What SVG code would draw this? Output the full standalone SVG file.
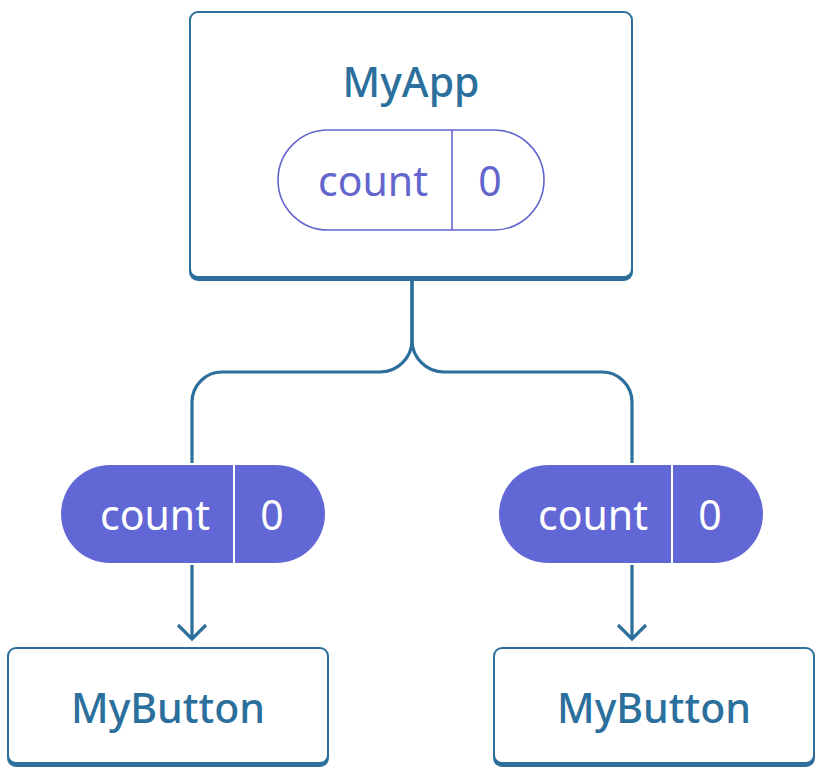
<svg xmlns="http://www.w3.org/2000/svg" width="820" height="770" viewBox="0 0 820 770">
<defs>
<style>
.box{fill:#ffffff;stroke:#2d6f9b;stroke-width:2}
.shadow{fill:#2d6f9b}
.title{font-family:"Noto Sans","Liberation Sans",sans-serif;font-size:41px;fill:#2b6f9c;text-anchor:middle;font-weight:500}
.pill-o{fill:#ffffff;stroke:#6366cc;stroke-width:1.6}
.pill-f{fill:#6267d6}
.ptxt-o{font-family:"Noto Sans","Liberation Sans",sans-serif;font-size:41px;fill:#6366cc;text-anchor:middle}
.ptxt-f{font-family:"Noto Sans","Liberation Sans",sans-serif;font-size:41px;fill:#ffffff;text-anchor:middle}
.conn{fill:none;stroke:#2d6f9b;stroke-width:3.2;stroke-linecap:butt}
</style>
</defs>
<g id="connectors">
<path class="conn" d="M412 280 V340 A32 32 0 0 1 380 372 H222 A30 30 0 0 0 192 402 V463"/>
<path class="conn" d="M412 280 V340 A32 32 0 0 0 444 372 H602 A30 30 0 0 1 632 402 V463"/>
<path class="conn" d="M192 565 V639"/>
<path class="conn" d="M178 625 L192 639 L206 625"/>
<path class="conn" d="M632 565 V639"/>
<path class="conn" d="M618 625 L632 639 L646 625"/>
</g>
<g id="myapp">
<rect class="shadow" x="189" y="15" width="444" height="266" rx="9"/>
<rect class="box" x="190" y="12" width="442" height="265" rx="8"/>
<text class="title" x="411" y="97">MyApp</text>
<g id="myapp-state">
<rect class="pill-o" x="278" y="130" width="266" height="100" rx="50"/>
<line x1="452" y1="130" x2="452" y2="230" stroke="#6366cc" stroke-width="1.6"/>
<text class="ptxt-o" x="373" y="196">count</text>
<text class="ptxt-o" x="490" y="196">0</text>
</g>
</g>
<g id="state-left">
<rect class="pill-f" x="61" y="465" width="264" height="98" rx="49"/>
<line x1="234" y1="465" x2="234" y2="563" stroke="#ffffff" stroke-width="2"/>
<text class="ptxt-f" x="155" y="530">count</text>
<text class="ptxt-f" x="272" y="530">0</text>
</g>
<g id="state-right">
<rect class="pill-f" x="499" y="465" width="264" height="98" rx="49"/>
<line x1="672" y1="465" x2="672" y2="563" stroke="#ffffff" stroke-width="2"/>
<text class="ptxt-f" x="593" y="530">count</text>
<text class="ptxt-f" x="710" y="530">0</text>
</g>
<g id="mybutton-left">
<rect class="shadow" x="7" y="651" width="322" height="116" rx="9"/>
<rect class="box" x="8" y="648" width="320" height="115" rx="8"/>
<text class="title" x="168" y="723">MyButton</text>
</g>
<g id="mybutton-right">
<rect class="shadow" x="493" y="651" width="322" height="116" rx="9"/>
<rect class="box" x="494" y="648" width="320" height="115" rx="8"/>
<text class="title" x="654" y="723">MyButton</text>
</g>
</svg>
